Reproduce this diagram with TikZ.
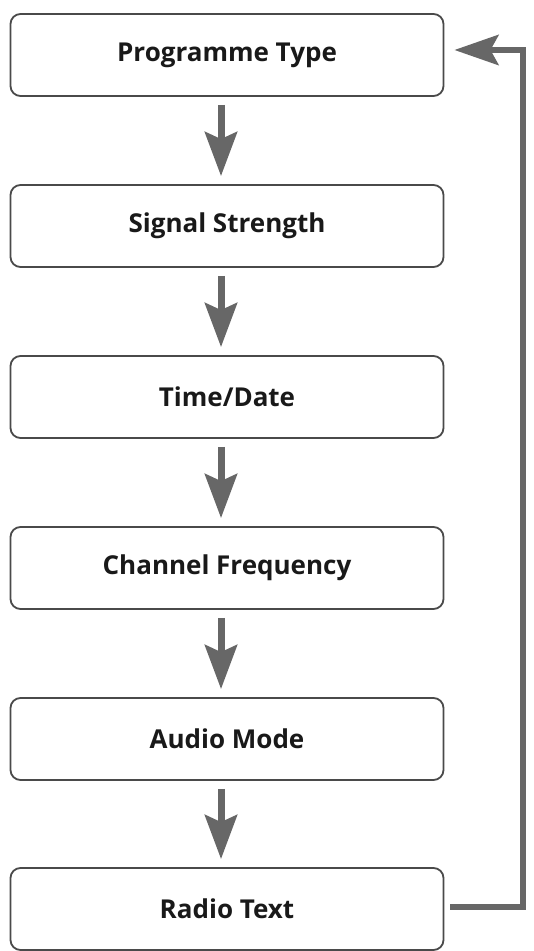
\documentclass[tikz,border=0pt]{standalone}
\usepackage{fontspec}
\setmainfont{Open Sans}
\usetikzlibrary{arrows.meta}
\definecolor{boxline}{HTML}{4A4A4A}
\definecolor{arrowgray}{HTML}{676767}
\tikzset{
  stagebox/.style={draw=boxline, line width=1.8pt, rounded corners=10pt,
    minimum width=433pt, minimum height=82pt, inner sep=0pt,
    font=\bfseries\fontsize{26}{30}\selectfont, text=black!90},
  downarrow/.style={draw=arrowgray, line width=7pt,
    -{Stealth[length=44pt,width=32pt,inset=7pt]}},
  backline/.style={draw=arrowgray, line width=6.5pt,
    -{Stealth[length=44pt,width=30pt,inset=8pt]}}
}
\begin{document}
\begin{tikzpicture}[x=1pt,y=1pt]
  \useasboundingbox (0,0) rectangle (534,951);
  \fill[white] (0,0) rectangle (534,951);
  \node[stagebox] (ptype) at (227,896) {Programme Type};     % top
  \node[stagebox] (signal) at (227,725) {Signal Strength};
  \node[stagebox] (time) at (227,554) {Time/Date};
  \node[stagebox] (freq) at (227,383) {Channel Frequency};
  \node[stagebox] (audio) at (227,212) {Audio Mode};
  \node[stagebox] (radio) at (227,42) {Radio Text};        % bottom
  \draw[downarrow] ([xshift=-6pt,yshift=-8pt]ptype.south) -- ([xshift=-6pt,yshift=8pt]signal.north);
  \draw[downarrow] ([xshift=-6pt,yshift=-8pt]signal.south) -- ([xshift=-6pt,yshift=8pt]time.north);
  \draw[downarrow] ([xshift=-6pt,yshift=-8pt]time.south) -- ([xshift=-6pt,yshift=8pt]freq.north);
  \draw[downarrow] ([xshift=-6pt,yshift=-8pt]freq.south) -- ([xshift=-6pt,yshift=8pt]audio.north);
  \draw[downarrow] ([xshift=-6pt,yshift=-8pt]audio.south) -- ([xshift=-6pt,yshift=8pt]radio.north);
  % loop back
  \coordinate (turnlow) at (523,44);
  \coordinate (turnhigh) at (523,901);
  \draw[backline] ([xshift=6pt,yshift=2pt]radio.east) -- (turnlow) -- (turnhigh) -- ([xshift=10pt,yshift=5pt]ptype.east);
\end{tikzpicture}
\end{document}
